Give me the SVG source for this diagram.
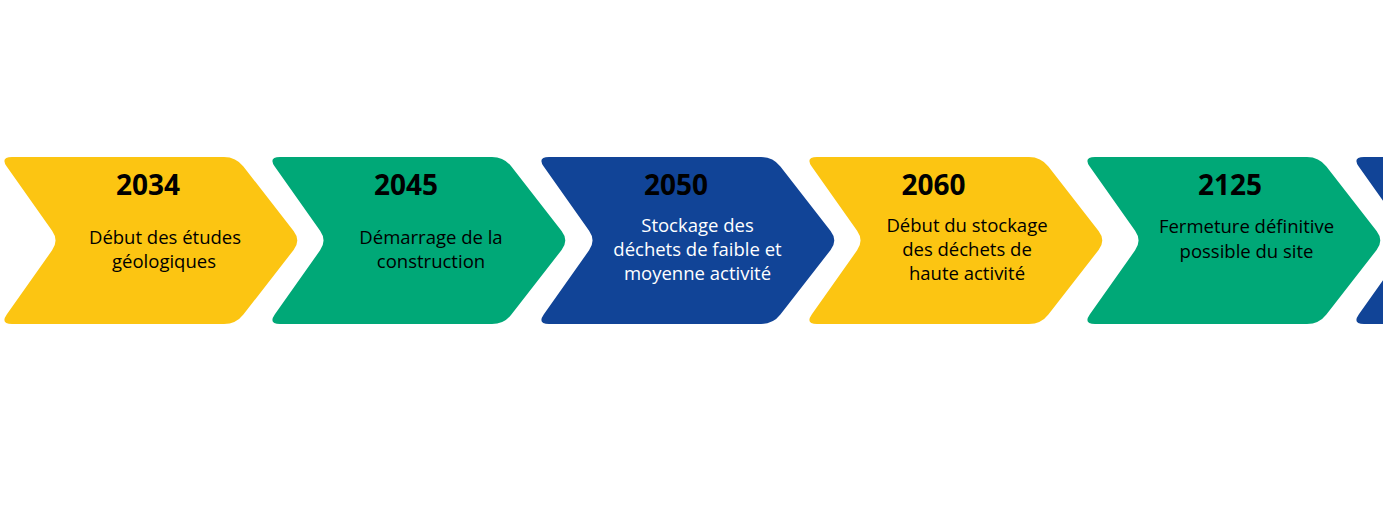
<svg xmlns="http://www.w3.org/2000/svg" width="1383" height="512" viewBox="0 0 1383 512">
<defs>
<path id="chev" d="M12,157 L224,157 Q236,157 243.4,166.5 L293.6,231 Q301,240.5 293.6,250 L243.4,314.5 Q236,324 224,324 L12,324 Q0,324 6.9,314.2 L52.1,250.3 Q59,240.5 52.1,230.7 L6.9,166.8 Q0,157 12,157 Z"/>
</defs>
<style>
.y{fill:#FCC512}.g{fill:#00A877}.b{fill:#114497}
.yr{font-family:"Open Sans","Liberation Sans",sans-serif;font-weight:700;font-size:28px;fill:#000;text-anchor:middle}
.tx{font-family:"Open Sans","Liberation Sans",sans-serif;font-size:18.5px;fill:#000;text-anchor:middle}
.w{fill:#fff}
</style>
<rect width="1383" height="512" fill="#fff"/>
<g id="n2034">
<use href="#chev" class="y" transform="translate(0,0)"/>
<text class="yr" x="148" y="195">2034</text>
<text class="tx" x="165" y="244">Début des études</text>
<text class="tx" x="164" y="268">géologiques</text>
</g>
<g id="n2045">
<use href="#chev" class="g" transform="translate(268,0)"/>
<text class="yr" x="406" y="195">2045</text>
<text class="tx" x="431" y="244">Démarrage de la</text>
<text class="tx" x="431" y="268">construction</text>
</g>
<g id="n2050">
<use href="#chev" class="b" transform="translate(537,0)"/>
<text class="yr" x="676" y="195">2050</text>
<text class="tx w" x="697.5" y="231.5">Stockage des</text>
<text class="tx w" x="697.5" y="255.5">déchets de faible et</text>
<text class="tx w" x="697.5" y="279.5">moyenne activité</text>
</g>
<g id="n2060">
<use href="#chev" class="y" transform="translate(805,0)"/>
<text class="yr" x="933.5" y="195">2060</text>
<text class="tx" x="967" y="231.5">Début du stockage</text>
<text class="tx" x="967" y="255.5">des déchets de</text>
<text class="tx" x="967" y="279.5">haute activité</text>
</g>
<g id="n2125">
<use href="#chev" class="g" transform="translate(1083,0)"/>
<text class="yr" x="1230" y="195">2125</text>
<text class="tx" x="1246.5" y="233">Fermeture définitive</text>
<text class="tx" x="1246.5" y="258">possible du site</text>
</g>
<g id="nnext">
<use href="#chev" class="b" transform="translate(1352,0)"/>
</g>
<g id="connectors"/>
</svg>
